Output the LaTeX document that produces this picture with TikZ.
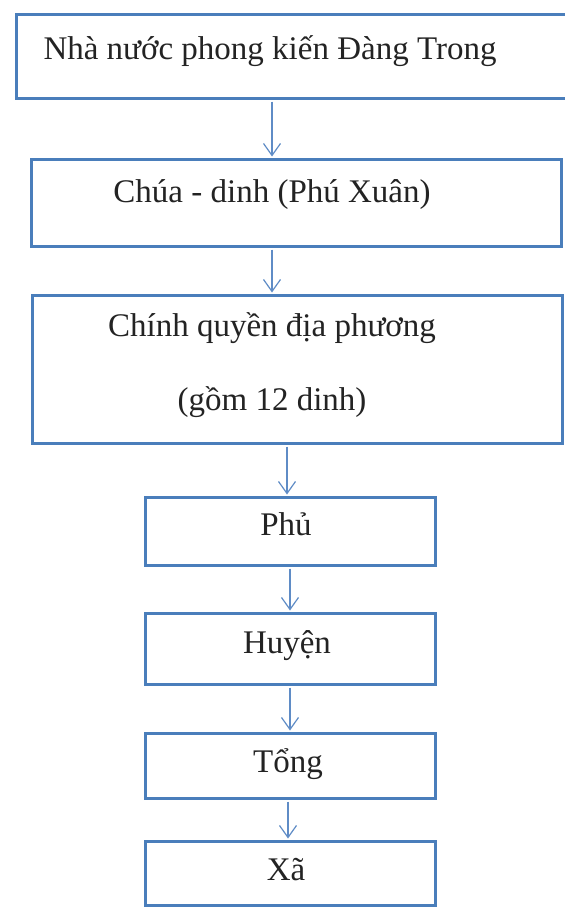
\documentclass[tikz,border=0pt]{standalone}
\usepackage{fontspec}
\setmainfont{Liberation Serif}
\usetikzlibrary{arrows.meta}
\definecolor{boxblue}{RGB}{74,126,187}
\definecolor{arrblue}{RGB}{95,140,198}
\definecolor{ink}{RGB}{35,35,35}
\begin{document}
\begin{tikzpicture}[x=1pt,y=-1pt,
  box/.style={draw=boxblue, line width=3pt, fill=white, inner sep=0pt, anchor=north west},
  txt/.style={font=\fontsize{33}{40}\selectfont, anchor=base, inner sep=0pt, text=ink},
  arr/.style={draw=arrblue, line width=1.2pt, shorten >=1.5pt, shorten <=1.5pt,
    -{Straight Barb[length=12pt,width=17pt,line width=1.2pt]}}]
\useasboundingbox (0,0) rectangle (565,908);
\clip (0,0) rectangle (565,908);
\fill[white] (0,0) rectangle (565,908);
% boxes
\node[box, minimum width=555pt, minimum height=84pt]  (b1) at (15,13)  {};
\node[box, minimum width=530pt, minimum height=87pt]  (b2) at (30,158) {};
\node[box, minimum width=530pt, minimum height=148pt] (b3) at (31,294) {};
\node[box, minimum width=290pt, minimum height=68pt]  (b4) at (144,496) {};
\node[box, minimum width=290pt, minimum height=71pt]  (b5) at (144,612) {};
\node[box, minimum width=290pt, minimum height=65pt]  (b6) at (144,732) {};
\node[box, minimum width=290pt, minimum height=64pt]  (b7) at (144,840) {};
% texts
\node[txt] (t1)  at (270,59)  {Nhà nước phong kiến Đàng Trong};
\node[txt] (t2)  at (272,202) {Chúa - dinh (Phú Xuân)};
\node[txt] (t3a) at (272,336) {Chính quyền địa phương};
\node[txt] (t3b) at (272,410) {(gồm 12 dinh)};
\node[txt] (t4)  at (286,535) {Phủ};
\node[txt] (t5)  at (287,653) {Huyện};
\node[txt] (t6)  at (288,772) {Tổng};
\node[txt] (t7)  at (286,880) {Xã};
% connectors
\draw[arr] (b1.south -| 272,0) -- (b2.north -| 272,0);
\draw[arr] (b2.south -| 272,0) -- (b3.north -| 272,0);
\draw[arr] (b3.south -| 287,0) -- (b4.north -| 287,0);
\draw[arr] (b4.south -| 290,0) -- (b5.north -| 290,0);
\draw[arr] (b5.south -| 290,0) -- (b6.north -| 290,0);
\draw[arr] (b6.south -| 288,0) -- (b7.north -| 288,0);
\end{tikzpicture}
\end{document}
